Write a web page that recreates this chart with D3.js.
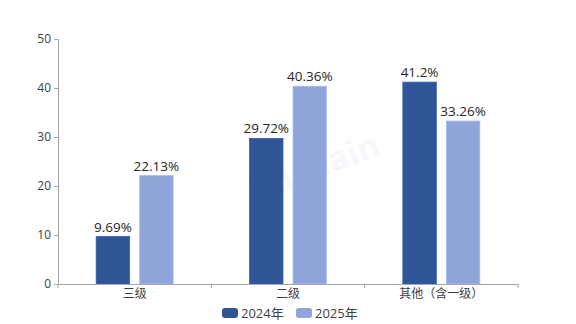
<!DOCTYPE html>
<html><head><meta charset="utf-8">
<script src="https://cdn.jsdelivr.net/npm/d3@7"></script>
<style>body{margin:0;background:#fff}svg{display:block}</style>
</head><body>
<svg id="c" width="576" height="324"></svg>
<script>
const categories = ["三级", "二级", "其他（含一级）"];
const seriesNames = ["2024年", "2025年"];
const values2024 = [9.69, 29.72, 41.2];
const values2025 = [22.13, 40.36, 33.26];
const labels2024 = ["9.69%", "29.72%", "41.2%"];
const labels2025 = ["22.13%", "40.36%", "33.26%"];
const yTicks = [0, 10, 20, 30, 40, 50];
const colors = ["#2f5597", "#8fa5da"];

(function () {
const svg = d3.select("#c");
const font = "'Open Sans','Noto Sans CJK SC',sans-serif";
const mLeft = 58, mRight = 518, mTop = 39, mBottom = 284;
const x = d3.scaleBand().domain(categories).range([mLeft, mRight]).paddingInner(0).paddingOuter(0);
const xs = d3.scaleBand().domain(seriesNames).range([0, 77]).paddingInner(0.23);
const y = d3.scaleLinear().domain([0, 50]).range([mBottom, mTop]);

// watermark
svg.append("text").attr("x", 318).attr("y", 178).attr("text-anchor", "middle")
  .attr("transform", "rotate(-20,318,178)")
  .attr("fill", "#2f5597").attr("opacity", 0.045)
  .style("font-family", font).style("font-size", "34px").style("font-weight", "bold")
  .text("Jinchain");

// y axis
const ya = svg.append("g").attr("transform", `translate(${mLeft},0)`)
  .call(d3.axisLeft(y).tickValues(yTicks).tickSize(4).tickPadding(3));
ya.select(".domain").attr("stroke", "#a6a6a6");
ya.selectAll(".tick line").attr("stroke", "#a6a6a6");
ya.selectAll("text").attr("fill", "#404040").style("font-family", font).style("font-size", "12px");

const series = [
  {name: seriesNames[0], vals: values2024, labels: labels2024, color: colors[0]},
  {name: seriesNames[1], vals: values2025, labels: labels2025, color: colors[1]}
];
const groupOffset = (x.bandwidth() - 77) / 2;
series.forEach(s => {
  const g = svg.append("g");
  g.selectAll("rect").data(categories).join("rect")
    .attr("x", (c) => x(c) + groupOffset + xs(s.name))
    .attr("width", xs.bandwidth())
    .attr("y", (c, i) => y(s.vals[i]))
    .attr("height", (c, i) => mBottom - y(s.vals[i]))
    .attr("fill", s.color)
    .attr("stroke", d3.color(s.color).brighter(0.4))
    .attr("stroke-width", 0.8);
  g.selectAll("text").data(categories).join("text")
    .attr("x", (c) => x(c) + groupOffset + xs(s.name) + xs.bandwidth() / 2)
    .attr("y", (c, i) => y(s.vals[i]) - 5)
    .attr("text-anchor", "middle")
    .attr("fill", "#262626")
    .style("font-family", font).style("font-size", "13.5px")
    .text((c, i) => s.labels[i]);
});

// x axis
const xa = svg.append("g").attr("transform", `translate(0,${mBottom})`)
  .call(d3.axisBottom(x).tickSize(0).tickPadding(5));
xa.select(".domain").attr("stroke", "#a6a6a6");
xa.selectAll("text").attr("fill", "#404040").style("font-family", "'Noto Sans CJK SC',sans-serif").style("font-size", "12px");
const bounds = categories.map(c => x(c)).concat([mRight]);
svg.append("g").selectAll("line").data(bounds).join("line")
  .attr("x1", d => d).attr("x2", d => d).attr("y1", mBottom).attr("y2", mBottom + 4)
  .attr("stroke", "#a6a6a6");

// legend
const leg = svg.append("g");
const legX = [222, 296];
series.forEach((s, i) => {
  leg.append("rect").attr("x", legX[i]).attr("y", 308).attr("width", 16).attr("height", 10)
    .attr("rx", 3).attr("fill", s.color);
  leg.append("text").attr("x", legX[i] + 19).attr("y", 318)
    .attr("fill", "#404040").style("font-family", font).style("font-size", "13px")
    .text(s.name);
});
})();
</script>
</body></html>
